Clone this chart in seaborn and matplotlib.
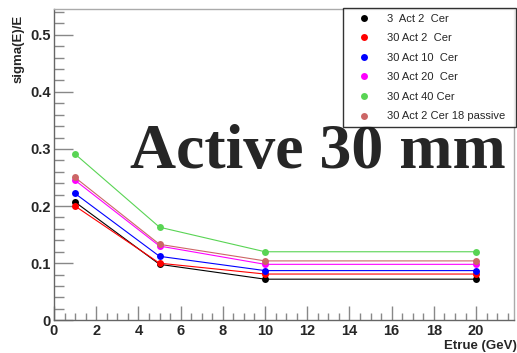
import numpy as np
import pandas as pd
import matplotlib
matplotlib.use("Agg")
import matplotlib.pyplot as plt
import seaborn as sns
from matplotlib.ticker import MultipleLocator

energies = [1, 5, 10, 20]
series_names = ["3  Act 2  Cer", "30 Act 2  Cer", "30 Act 10  Cer",
                "30 Act 20  Cer", "30 Act 40 Cer", "30 Act 2 Cer 18 passive"]
s_3act2cer = [0.207, 0.098, 0.072, 0.072]
s_30act2cer = [0.200, 0.100, 0.081, 0.081]
s_30act10cer = [0.222, 0.112, 0.087, 0.087]
s_30act20cer = [0.245, 0.130, 0.098, 0.098]
s_30act40cer = [0.291, 0.163, 0.120, 0.120]
s_30act2cer18p = [0.250, 0.133, 0.104, 0.104]
colors = ["#000000", "#ff0000", "#0000ff", "#ff00ff", "#59d454", "#cc6666"]

all_series = [s_3act2cer, s_30act2cer, s_30act10cer, s_30act20cer, s_30act40cer, s_30act2cer18p]
rows = []
for name, vals in zip(series_names, all_series):
    for e, v in zip(energies, vals):
        rows.append({"Etrue": e, "sigma": v, "series": name})
df = pd.DataFrame(rows)

sns.set_style("white")
plt.rcParams["font.family"] = ["Liberation Sans", "DejaVu Sans"]

fig = plt.figure(figsize=(5.17, 3.53), dpi=100)
ax = fig.add_axes([0.1044, 0.0926, 0.890, 0.882])

sns.lineplot(data=df, x="Etrue", y="sigma", hue="series", hue_order=series_names,
             palette=colors, marker="o", markersize=5, markeredgewidth=0,
             linewidth=0.8, ax=ax, legend=False, sort=False)

ax.set_xlim(0, 21.8)
ax.set_ylim(0, 0.545)
ax.xaxis.set_major_locator(MultipleLocator(2))
ax.xaxis.set_minor_locator(MultipleLocator(0.5))
ax.yaxis.set_major_locator(MultipleLocator(0.1))
ax.yaxis.set_minor_locator(MultipleLocator(0.02))
ax.set_yticks([0, 0.1, 0.2, 0.3, 0.4, 0.5])
ax.set_yticklabels(["0", "0.1", "0.2", "0.3", "0.4", "0.5"])
ax.tick_params(axis="both", which="both", bottom=True, left=True, top=False, right=False)
ax.tick_params(axis="both", which="major", direction="in", length=10, width=1,
               color="#888888", labelsize=10.5, pad=2.5)
ax.tick_params(axis="both", which="minor", direction="in", length=5, width=1,
               color="#888888")
ax.tick_params(axis="y", which="major", length=14)
ax.tick_params(axis="y", which="minor", length=7)
for lab in ax.get_xticklabels() + ax.get_yticklabels():
    lab.set_fontweight("bold")
for sp in ax.spines.values():
    sp.set_color("#aaaaaa")
    sp.set_linewidth(1)
ax.spines["bottom"].set_color("#666666")
ax.spines["left"].set_color("#666666")

ax.set_xlabel("")
ax.set_ylabel("")
fig.text(0.999, 0.002, "Etrue (GeV)", ha="right", va="bottom", fontsize=9.5,
         fontweight="bold")
fig.text(0.036, 0.958, "sigma(E)/E", ha="center", va="top", rotation=90,
         fontsize=9.5, fontweight="bold")

handles = [plt.Line2D([], [], linestyle="none", marker="o", markersize=5,
                      markerfacecolor=c, markeredgewidth=0) for c in colors]
leg = fig.legend(handles, series_names, loc="upper left",
                 bbox_to_anchor=(0.663, 0.646, 0.336, 0.331), mode="expand",
                 fontsize=8, labelspacing=0.86, handlelength=2.8,
                 handletextpad=0.72, borderpad=0.5, borderaxespad=0,
                 frameon=True, fancybox=False, edgecolor="#000000")
leg.get_frame().set_linewidth(1)

fig.text(0.251, 0.525, "Active 30 mm", ha="left", va="baseline",
         fontsize=46, fontweight="bold", family=["Liberation Serif", "DejaVu Serif"])

fig.savefig("out.png", dpi=100)
